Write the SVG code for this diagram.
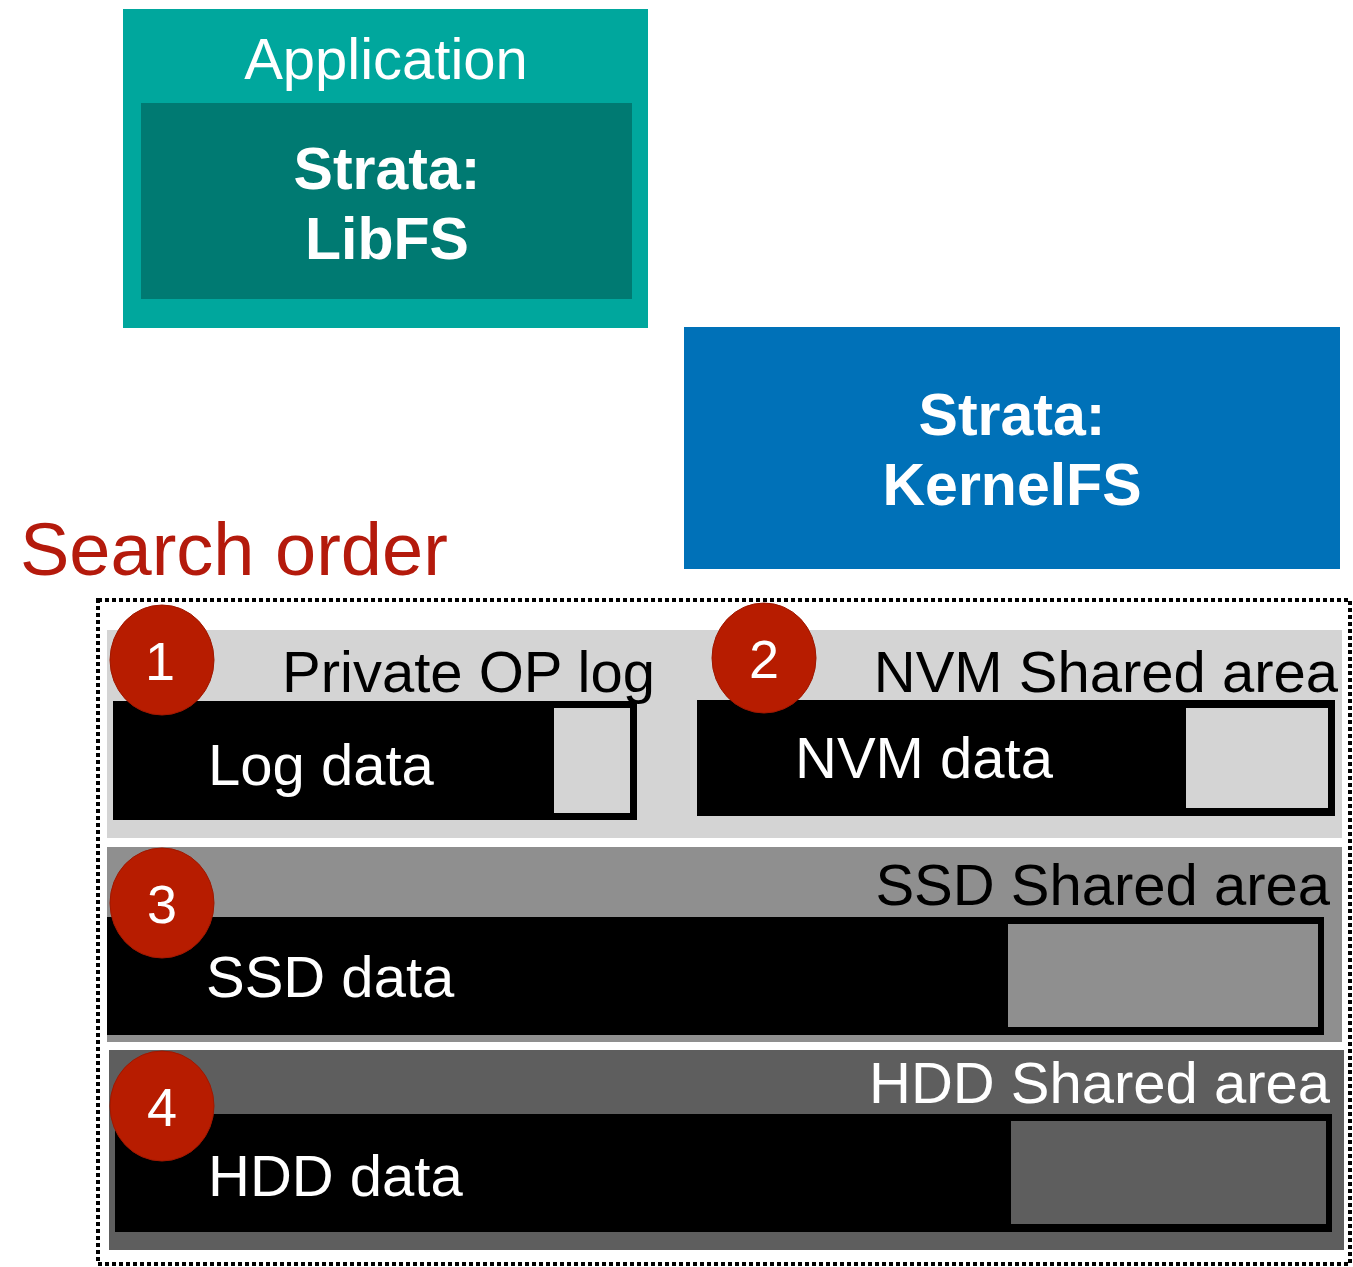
<svg xmlns="http://www.w3.org/2000/svg" width="1353" height="1267" viewBox="0 0 1353 1267">
<style>
text{font-family:"Liberation Sans",Arial,sans-serif}
.w{fill:#fff}
.k{fill:#000}
.b{font-weight:bold;font-size:59px}
.t{font-size:58px}
.num{font-size:54px;fill:#fff;text-anchor:middle}
.circ{fill:#B71C00;stroke:#A01800;stroke-width:1}
.blk{fill:#000}
</style>
<rect width="1353" height="1267" fill="#fff"/>
<g id="application">
<rect x="123" y="9" width="525" height="319" fill="#00A79D"/>
<text x="386" y="79" class="w" font-size="58" text-anchor="middle">Application</text>
</g>
<g id="libfs">
<rect x="141" y="103" width="491" height="196" fill="#007A72"/>
<text x="387" y="189" class="w b" text-anchor="middle">Strata:</text>
<text x="387" y="259" class="w b" text-anchor="middle">LibFS</text>
</g>
<g id="kernelfs">
<rect x="684" y="327" width="656" height="242" fill="#0071B8"/>
<text x="1012" y="435" class="w b" text-anchor="middle">Strata:</text>
<text x="1012" y="505" class="w b" text-anchor="middle">KernelFS</text>
</g>
<g id="search-order">
<text x="20" y="575" font-size="74" fill="#B41A0C">Search order</text>
<rect x="98" y="600" width="1252" height="664" fill="none" stroke="#000" stroke-width="4" stroke-dasharray="4,3"/>
</g>
<g id="nvm-row">
<rect x="107" y="630" width="1235" height="208" fill="#D4D4D4"/>
</g>
<g id="private-log">
<text x="655" y="692" class="t k" text-anchor="end">Private OP log</text>
<rect x="113" y="701" width="524" height="119" class="blk"/>
<rect x="554" y="708" width="76" height="105" fill="#D4D4D4"/>
<text x="208" y="785" class="t w">Log data</text>
</g>
<g id="nvm-shared">
<text x="1338" y="692" class="t k" text-anchor="end">NVM Shared area</text>
<rect x="697" y="700" width="638" height="116" class="blk"/>
<rect x="1186" y="708" width="142" height="100" fill="#D4D4D4"/>
<text x="795" y="778" class="t w">NVM data</text>
</g>
<g id="ssd-shared">
<rect x="107" y="847" width="1235" height="195" fill="#8F8F8F"/>
<text x="1330" y="905" class="t k" text-anchor="end">SSD Shared area</text>
<rect x="107" y="917" width="1217" height="118" class="blk"/>
<rect x="1008" y="924" width="310" height="103" fill="#8F8F8F"/>
<text x="206" y="997" class="t w">SSD data</text>
</g>
<g id="hdd-shared">
<rect x="109" y="1050" width="1235" height="200" fill="#5E5E5E"/>
<text x="1330" y="1103" class="t w" text-anchor="end">HDD Shared area</text>
<rect x="115" y="1114" width="1217" height="118" class="blk"/>
<rect x="1011" y="1121" width="315" height="103" fill="#5E5E5E"/>
<text x="208" y="1196" class="t w">HDD data</text>
</g>
<g id="step-1"><ellipse cx="162" cy="660" rx="52" ry="55" class="circ"/><text x="160" y="680" class="num">1</text></g>
<g id="step-2"><ellipse cx="764" cy="658" rx="52" ry="55" class="circ"/><text x="764" y="678" class="num">2</text></g>
<g id="step-3"><ellipse cx="162" cy="903" rx="52" ry="55" class="circ"/><text x="162" y="923" class="num">3</text></g>
<g id="step-4"><ellipse cx="162" cy="1106" rx="52" ry="55" class="circ"/><text x="162" y="1126" class="num">4</text></g>
<g id="connectors"></g>
</svg>
